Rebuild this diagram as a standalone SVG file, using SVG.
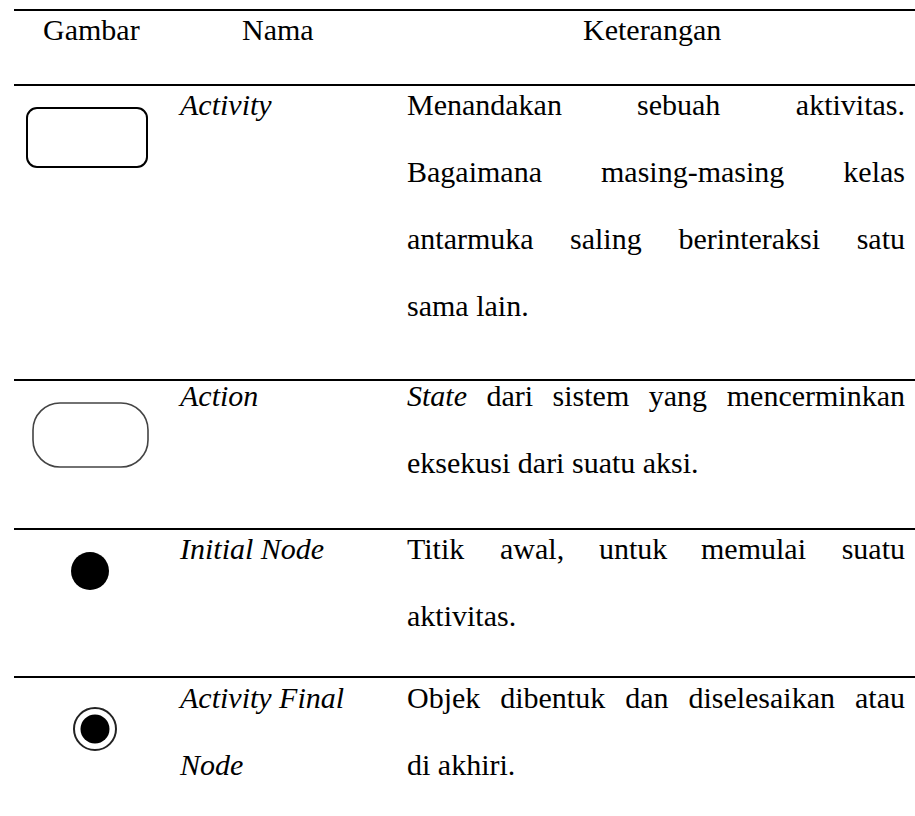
<svg xmlns="http://www.w3.org/2000/svg" width="915" height="816" viewBox="0 0 915 816">
<style>
text{font-family:"Liberation Serif","Times New Roman",serif;font-size:30px;fill:#000}
.i{font-style:italic}
.e{text-anchor:end}
.rule{stroke:#000;stroke-width:2.2}
</style>
<rect width="915" height="816" fill="#fff"/>
<g id="rules">
<line class="rule" x1="14" y1="10" x2="915" y2="10"/>
<line class="rule" x1="14" y1="85" x2="915" y2="85"/>
<line class="rule" x1="14" y1="380" x2="915" y2="380"/>
<line class="rule" x1="14" y1="529" x2="915" y2="529"/>
<line class="rule" x1="14" y1="677" x2="915" y2="677"/>
</g>
<g id="header">
<text x="43" y="40">Gambar</text>
<text x="242" y="40">Nama</text>
<text x="583" y="40">Keterangan</text>
</g>
<g id="row-activity">
<rect x="27" y="108" width="120" height="59" rx="10" fill="#fff" stroke="#000" stroke-width="2"/>
<text class="i" x="180" y="115">Activity</text>
<text x="407" y="115">Menandakan</text>
<text x="637" y="115">sebuah</text>
<text class="e" x="905" y="115">aktivitas.</text>
<text x="407" y="182">Bagaimana</text>
<text x="601" y="182">masing-masing</text>
<text class="e" x="905" y="182">kelas</text>
<text x="407" y="249">antarmuka</text>
<text x="570" y="249">saling</text>
<text x="678.5" y="249">berinteraksi</text>
<text class="e" x="905" y="249">satu</text>
<text x="407" y="316">sama lain.</text>
</g>
<g id="row-action">
<rect x="33" y="403" width="115" height="64" rx="27" fill="#fff" stroke="#444" stroke-width="1.6"/>
<text class="i" x="180" y="406">Action</text>
<text class="i" x="407" y="406">State</text>
<text x="486.5" y="406">dari</text>
<text x="552.6" y="406">sistem</text>
<text x="648.8" y="406">yang</text>
<text class="e" x="905" y="406">mencerminkan</text>
<text x="407" y="473">eksekusi dari suatu aksi.</text>
</g>
<g id="row-initial">
<circle cx="90" cy="571" r="19" fill="#000"/>
<text class="i" x="180" y="559">Initial Node</text>
<text x="407" y="559">Titik</text>
<text x="500" y="559">awal,</text>
<text x="599" y="559">untuk</text>
<text x="701" y="559">memulai</text>
<text class="e" x="905" y="559">suatu</text>
<text x="407" y="626">aktivitas.</text>
</g>
<g id="row-final">
<circle cx="95" cy="729" r="21" fill="#fff" stroke="#222" stroke-width="2"/>
<circle cx="95" cy="729" r="14.5" fill="#000"/>
<text class="i" x="180" y="708">Activity Final</text>
<text class="i" x="180" y="775">Node</text>
<text x="407" y="708">Objek</text>
<text x="500.2" y="708">dibentuk</text>
<text x="625.2" y="708">dan</text>
<text x="688.4" y="708">diselesaikan</text>
<text class="e" x="905" y="708">atau</text>
<text x="407" y="775">di akhiri.</text>
</g>
</svg>
